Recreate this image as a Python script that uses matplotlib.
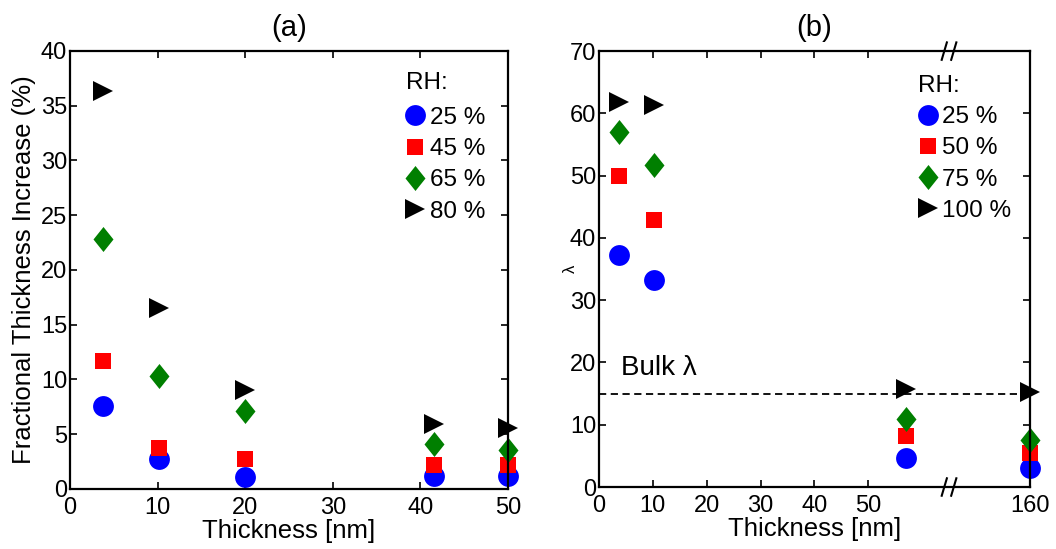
"""Fractional thickness increase and lambda vs film thickness, two panels."""

import matplotlib.pyplot as plt
import numpy as np
from matplotlib.path import Path

plt.rcParams["font.family"] = ["Liberation Sans", "DejaVu Sans"]

# %% Data
# panel (a)
thick_a = [3.8, 10.2, 20.0, 41.5, 50.0]
rh_a = ["25 %", "45 %", "65 %", "80 %"]
frac_a = [
    [7.6, 2.7, 1.1, 1.2, 1.2],
    [11.7, 3.7, 2.7, 2.2, 2.2],
    [22.8, 10.3, 7.1, 4.1, 3.6],
    [36.3, 16.5, 9.0, 5.9, 5.6],
]

# panel (b)
thick_b = [3.8, 10.3, 57.0, 160.0]
rh_b = ["25 %", "50 %", "75 %", "100 %"]
lam_b = [
    [37.2, 33.3, 4.7, 3.0],
    [49.9, 42.8, 8.2, 5.4],
    [57.0, 51.7, 10.9, 7.6],
    [61.8, 61.3, 15.7, 15.3],
]
bulk_lambda = 14.9
xticks_b = [0, 10, 20, 30, 40, 50, 160]

# %% Styles
diamond = Path([(-0.4, 0), (0, 0.5), (0.4, 0), (0, -0.5), (-0.4, 0)], closed=True)
styles = [
    dict(marker="o", color="#0000ff", ms=15),
    dict(marker="s", color="#ff0000", ms=12),
    dict(marker=diamond, color="#007f00", ms=18),
    dict(marker=">", color="black", ms=15),
]


def style_axes(ax):
    for s in ax.spines.values():
        s.set_linewidth(1.6)
    ax.tick_params(direction="in", top=True, right=True, length=5, width=1.2,
                   labelsize=17)
    ax.tick_params(axis="x", pad=6)
    ax.tick_params(axis="y", pad=2)


def add_legend(ax, title_xy, anchor):
    # "RH:" heading placed as plain text, entries as a frameless legend
    ax.text(*title_xy, "RH:", transform=ax.transAxes, fontsize=17.5,
            ha="left", va="center")
    ax.legend(loc="upper left", bbox_to_anchor=anchor, frameon=False,
              fontsize=17.5, handlelength=0.9, handletextpad=0.15,
              labelspacing=0.38, borderaxespad=0, borderpad=0)


# break axis mapping for panel (b)
def fwd(x):
    x = np.asarray(x, dtype=float)
    return np.where(x <= 60, x, 60 + (x - 60) * 0.2)


def inv(y):
    y = np.asarray(y, dtype=float)
    return np.where(y <= 60, y, 60 + (y - 60) * 5)


fig = plt.figure(figsize=(10.56, 5.49), dpi=100)
ax_a = fig.add_axes([0.0663, 0.1093, 0.4148, 0.798])
ax_b = fig.add_axes([0.5672, 0.1129, 0.408, 0.794])

# %% Panel (a)
for vals, lab, st in zip(frac_a, rh_a, styles):
    ax_a.plot(thick_a, vals, linestyle="none", label=lab, clip_on=False,
              markeredgewidth=0, marker=st["marker"], color=st["color"],
              markersize=st["ms"])
ax_a.set_xlim(0, 50)
ax_a.set_ylim(0, 40)
ax_a.set_xticks(range(0, 51, 10))
ax_a.set_yticks(range(0, 41, 5))
ax_a.set_xlabel("Thickness [nm]", fontsize=18.5, labelpad=0)
ax_a.set_ylabel("Fractional Thickness Increase (%)", fontsize=18.5)
ax_a.yaxis.set_label_coords(-0.078, 0.5)
ax_a.set_title("(a)", fontsize=21, pad=11)
style_axes(ax_a)
add_legend(ax_a, (0.767, 0.927), (0.7626, 0.872))

# %% Panel (b)
ax_b.set_xscale("function", functions=(fwd, inv))
for vals, lab, st in zip(lam_b, rh_b, styles):
    ax_b.plot(thick_b, vals, linestyle="none", label=lab, clip_on=False,
              markeredgewidth=0, marker=st["marker"], color=st["color"],
              markersize=st["ms"])
ax_b.axhline(bulk_lambda, color="black", linestyle="--", linewidth=1.3,
             dashes=(4, 2.5), zorder=1)
ax_b.text(4, 17.0, "Bulk λ", fontsize=20, ha="left", va="bottom")
ax_b.set_xlim(0, 160)
ax_b.set_ylim(0, 70)
ax_b.set_xticks(xticks_b)
ax_b.set_xticklabels([str(t) for t in xticks_b])
ax_b.xaxis.set_minor_locator(plt.NullLocator())
ax_b.set_yticks(range(0, 71, 10))
ax_b.set_xlabel("Thickness [nm]", fontsize=18.5, labelpad=0)
ax_b.set_ylabel("λ", fontsize=12)
ax_b.yaxis.set_label_coords(-0.049, 0.5)
ax_b.set_title("(b)", fontsize=21, pad=11)
style_axes(ax_b)
add_legend(ax_b, (0.740, 0.920), (0.738, 0.874))

# break marks on top and bottom spines
xb = 65 / 80
for yb in (0, 1):
    for dx in (-0.011, 0.011):
        ax_b.plot([xb + dx - 0.006, xb + dx + 0.006], [yb - 0.02, yb + 0.02],
                  transform=ax_b.transAxes, color="black", linewidth=1.5,
                  clip_on=False)

fig.savefig("out.png", dpi=100)
